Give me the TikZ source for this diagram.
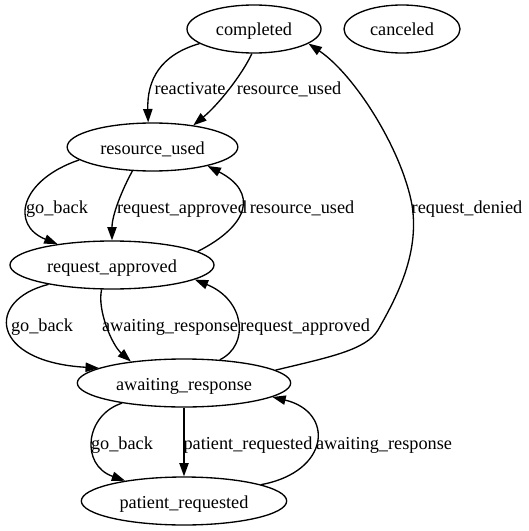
\documentclass[tikz,border=0pt]{standalone}
\usepackage{fontspec}
\setmainfont{Liberation Serif}
\usetikzlibrary{shapes.geometric,arrows.meta}
\begin{document}
\begin{tikzpicture}[x=0.75pt,y=-0.75pt,
  st/.style={draw,ellipse,line width=1pt,inner sep=0pt,minimum height=36pt,text height=12pt,text depth=1.5pt,font=\fontsize{13.7pt}{16pt}\selectfont},
  lbl/.style={inner sep=0pt,anchor=base,font=\fontsize{13.7pt}{16pt}\selectfont},
  edge/.style={line width=1pt,-{Triangle[length=10pt,width=7pt]}}]
\useasboundingbox (0,0) rectangle (528,531);
% states
\node[st,minimum width=100.5pt] (completed) at (254,29) {completed};
\node[st,minimum width=87pt] (canceled) at (402,29) {canceled};
\node[st,minimum width=128pt] (rused) at (152.5,147) {resource\_used};
\node[st,minimum width=153pt] (rapp) at (112,265) {request\_approved};
\node[st,minimum width=160pt] (await) at (184,383) {awaiting\_response};
\node[st,minimum width=154pt] (preq) at (184,501) {patient\_requested};
% edges
\draw[edge] (completed.195) .. controls (160,55) and (147,80) .. (rused.100);
\draw[edge] (completed.265) .. controls (242,75) and (218,105) .. (rused.28);
\draw[edge] (rused.190) .. controls (20,180) and (10,225) .. (rapp.159);
\draw[edge] (rused.230) .. controls (122,190) and (112,215) .. (rapp.90);
\draw[edge] (rapp.9) .. controls (250,225) and (258,192) .. (rused.341);
\draw[edge] (rapp.197) .. controls (-15,300) and (-10,362) .. (await.170);
\draw[edge] (rapp.247) .. controls (97,310) and (112,345) .. (await.158);
\draw[edge] (await.33) .. controls (250,345) and (245,300) .. (rapp.350);
\draw[edge] (await.8) .. controls (330,357) and (366,350) .. (378,330)
  .. controls (395,300) and (420,255) .. (412,205)
  .. controls (402,150) and (355,75) .. (completed.345);
\draw[edge] (await.198) .. controls (85,415) and (80,465) .. (preq.161);
\draw[edge] (await.south) -- (preq.north);
\draw[edge] (preq.12) .. controls (330,472) and (335,412) .. (await.351);
% labels
\node[lbl] (l1) at (190,95) {reactivate};
\node[lbl] (l2) at (289,95) {resource\_used};
\node[lbl] (l3) at (57,213) {go\_back};
\node[lbl] (l4) at (182,213) {request\_approved};
\node[lbl] (l5) at (302,213) {resource\_used};
\node[lbl] (l6) at (467,213) {request\_denied};
\node[lbl] (l7) at (42,331.5) {go\_back};
\node[lbl] (l8) at (170,331.5) {awaiting\_response};
\node[lbl] (l9) at (305,331.5) {request\_approved};
\node[lbl] (l10) at (122,449) {go\_back};
\node[lbl] (l11) at (248,449) {patient\_requested};
\node[lbl] (l12) at (384,449) {awaiting\_response};
\end{tikzpicture}
\end{document}
